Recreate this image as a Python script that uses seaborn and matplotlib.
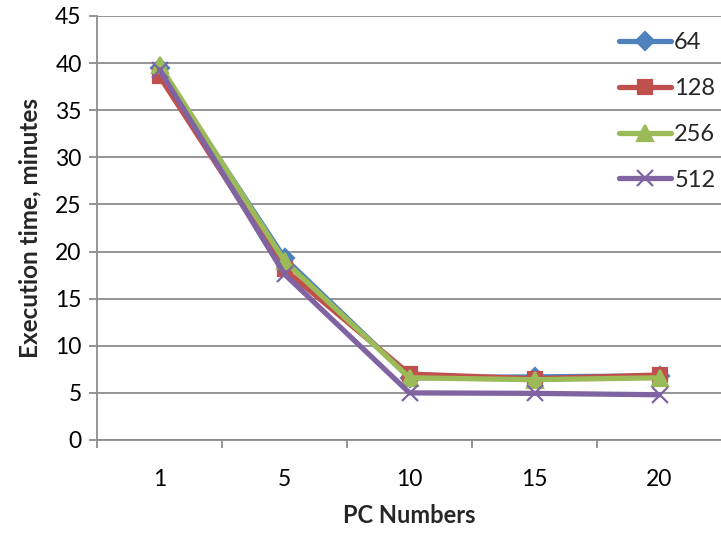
import matplotlib
matplotlib.use("Agg")
import matplotlib.pyplot as plt
import seaborn as sns
import numpy as np

pc_numbers = ["1", "5", "10", "15", "20"]
series_names = ["64", "128", "256", "512"]
time_64 = [39.5, 19.3, 6.6, 6.7, 6.8]
time_128 = [38.6, 18.1, 7.0, 6.5, 6.9]
time_256 = [39.8, 19.0, 6.6, 6.4, 6.6]
time_512 = [39.3, 17.6, 5.0, 4.95, 4.8]

colors = ["#4F81BD", "#C0504D", "#9BBB59", "#8064A2"]
markers = ["D", "s", "^", "x"]
msizes = [9, 10.5, 11, 12]

sns.set_theme(style="white")
plt.rcParams["font.family"] = ["Lato", "DejaVu Sans"]

fig = plt.figure(figsize=(7.21, 5.33), dpi=100)
ax = fig.add_axes([97 / 721, 1 - 440 / 533, 625 / 721, 424 / 533])

for name, vals, c, m, ms in zip(series_names, [time_64, time_128, time_256, time_512],
                                colors, markers, msizes):
    sns.lineplot(x=pc_numbers, y=vals, ax=ax, color=c, lw=3.8, marker=m,
                 markersize=ms, markeredgecolor=c, markeredgewidth=1.6,
                 label=name, sort=False)

ax.set_xlim(-0.5, 4.5)
ax.set_ylim(0, 45)
ax.set_yticks(np.arange(0, 46, 5))
ax.grid(axis="y", color="#8C8C8C", lw=1.3)
ax.set_axisbelow(True)
for s in ["top", "right"]:
    ax.spines[s].set_visible(False)
for s in ["left", "bottom"]:
    ax.spines[s].set_color("#8C8C8C")
    ax.spines[s].set_linewidth(1.3)

ax.set_xticks(np.arange(-0.5, 4.6, 1), minor=True)
ax.tick_params(axis="x", which="major", length=0, labelsize=16.5, pad=21, colors="black")
ax.tick_params(axis="x", which="minor", length=6, width=1.3, color="#8C8C8C", direction="out", bottom=True)
ax.tick_params(axis="y", which="major", length=6, width=1.3, color="#8C8C8C", direction="out",
               labelsize=16.5, pad=5, left=True, labelcolor="black")

ax.set_xlabel("PC Numbers", fontsize=17, fontweight="bold", labelpad=10)
ax.set_ylabel("Execution time, minutes", fontsize=17.5, fontweight="bold", labelpad=10)

leg = ax.legend(loc="upper right", bbox_to_anchor=(1.012, 0.995), frameon=False, fontsize=17,
                handlelength=2.2, handletextpad=0.15, labelspacing=1.05, borderaxespad=0.2)

fig.savefig("out.png", dpi=100)
